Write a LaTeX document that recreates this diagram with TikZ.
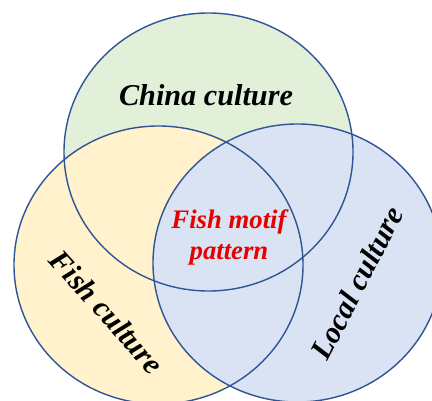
\documentclass[tikz,border=0pt]{standalone}
\usepackage{fontspec}
\setmainfont{Liberation Serif}
\usepackage{xcolor}
\usetikzlibrary{positioning}
\definecolor{PaleGreen}{RGB}{226,239,217}
\definecolor{PaleYellow}{RGB}{255,242,204}
\definecolor{PaleBlue}{RGB}{218,227,243}
\definecolor{RimBlue}{RGB}{47,85,151}
\definecolor{MotifRed}{RGB}{230,0,0}

\begin{document}
\begin{tikzpicture}[x=0.025cm, y=-0.025cm,
		lab/.style={font=\fontsize{21.5}{24}\selectfont\bfseries\itshape, text=black}]
		\useasboundingbox (0,0) rectangle (432,400);
		% fills
		\begin{scope}
			\clip (0,0) rectangle (432,400);
			\fill[PaleGreen] (208.5,152) ellipse [x radius=144.5, y radius=139];
			\fill[PaleYellow] (158.5,265) ellipse [x radius=144.5, y radius=139];
			\fill[PaleBlue] (297.5,263) ellipse [x radius=144.5, y radius=139];
			% rims
			\draw[RimBlue, line width=1pt] (208.5,152) ellipse [x radius=144.5, y radius=139];
			\draw[RimBlue, line width=1pt] (158.5,265) ellipse [x radius=144.5, y radius=139];
			\draw[RimBlue, line width=1pt] (297.5,263) ellipse [x radius=144.5, y radius=139];
		\end{scope}
		% labels
		\node[lab] (china) at (206,95) {China culture};
		\node[lab, rotate=-48] (fish) at (107,312) {Fish culture};
		\node[lab, rotate=62.7] (local) at (357,283) {Local culture};
		\node[lab, text=MotifRed, align=center, font=\fontsize{19}{22}\selectfont\bfseries\itshape] (motif) at (229,237) {Fish motif\\pattern};
	\end{tikzpicture}
\end{document}
